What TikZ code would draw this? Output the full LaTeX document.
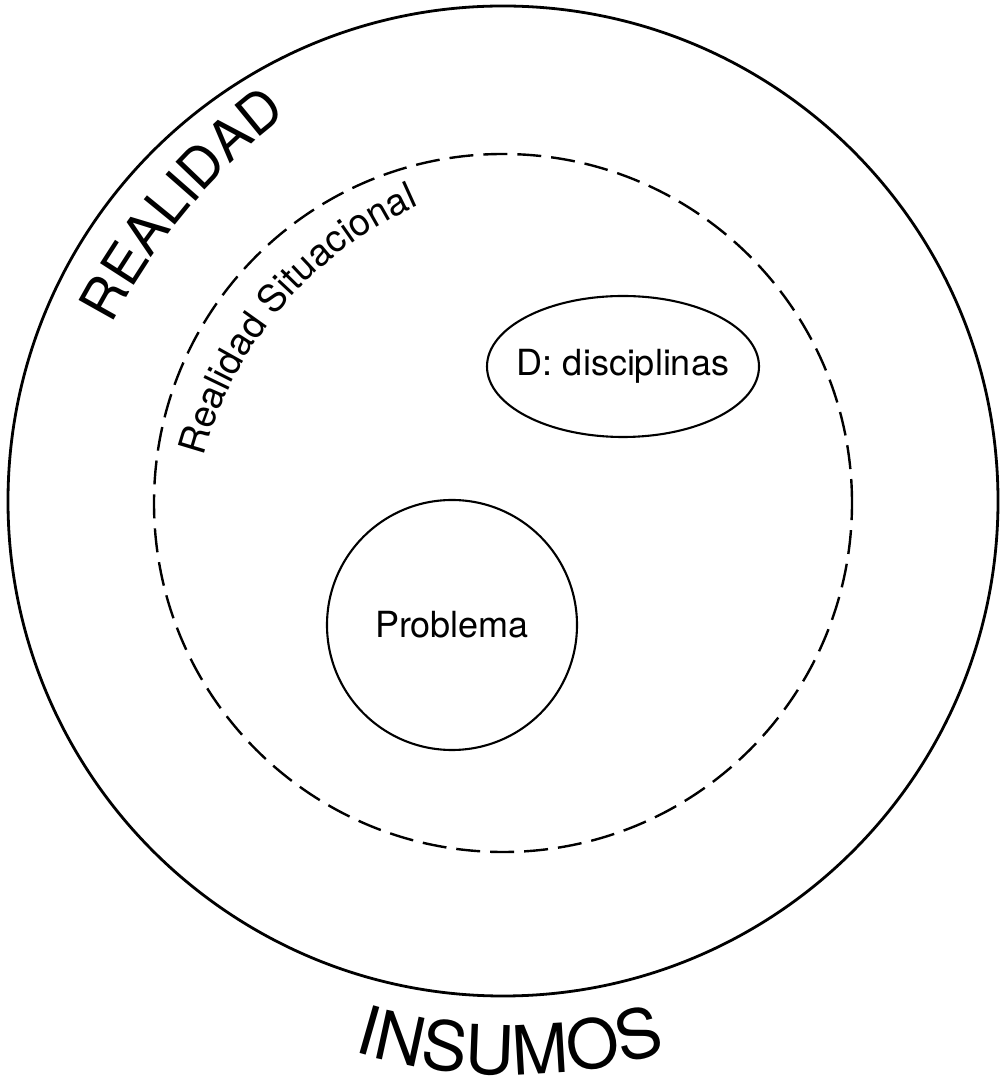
\documentclass[tikz,border=0pt]{standalone}
\usepackage{fontspec}
\setmainfont{TeX Gyre Heros}
\usetikzlibrary{shapes.geometric,decorations.text}
\tikzset{
  ringline/.style={circle,draw,inner sep=0pt},
  bodytext/.style={font=\fontsize{36bp}{40bp}\selectfont},
  curvedtext/.style={decorate,decoration={text along path,text align=center,text={#1}}}
}
\begin{document}
\begin{tikzpicture}[x=1bp,y=1bp]
\useasboundingbox (0,0) rectangle (1003,1091);
% outer circle
\node[ringline,line width=2.8bp,minimum size=990bp] (outer) at (503,590) {};
% dashed circle
\node[ringline,line width=2.4bp,dash pattern=on 24bp off 10bp,minimum size=698bp] (situ) at (503,588) {};
% ellipse
\node[ellipse,draw,line width=2.1bp,minimum width=272bp,minimum height=141bp,inner sep=0pt,bodytext] (disc) at (623,724.5) {\makebox[0pt]{D: disciplinas}};
% problem circle
\node[ringline,line width=2.1bp,minimum size=250bp,bodytext] (prob) at (452,466) {Problema};
% curved labels
\coordinate (cR) at (670.7,476);
\coordinate (cS) at (571.5,537.6);
\coordinate (cI) at (510,551);
\path[curvedtext={|\fontsize{55bp}{55bp}\selectfont|REALIDAD}] (cR) ++(165:630) arc[start angle=165,end angle=115,radius=630];
\path[curvedtext={|\fontsize{37.5bp}{37.5bp}\selectfont|Realidad Situacional}] (cS) ++(175.5:380) arc[start angle=175.5,end angle=103.5,radius=380];
\path[curvedtext={|\fontsize{68bp}{68bp}\selectfont|INSUMOS}] (cI) ++(-120:535) arc[start angle=-120,end angle=-60,radius=535];
\end{tikzpicture}
\end{document}
